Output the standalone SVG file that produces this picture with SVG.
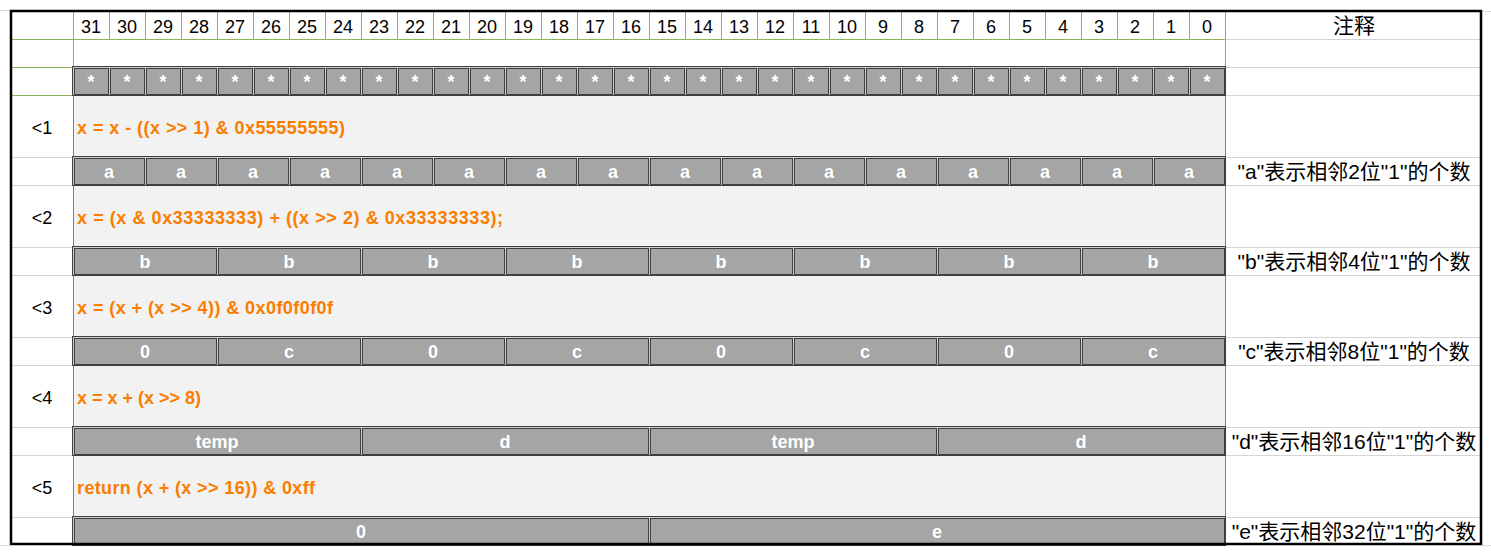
<svg xmlns="http://www.w3.org/2000/svg" width="1491" height="558" viewBox="0 0 1491 558">
<style>
.hd{font-family:"Liberation Sans",Arial,sans-serif;font-size:18px;fill:#000;text-anchor:middle}
.lb{font-family:"Liberation Sans",Arial,sans-serif;font-size:18px;fill:#000;text-anchor:middle}
.fx{font-family:"Liberation Sans",Arial,sans-serif;font-size:18px;font-weight:bold;fill:#FA7D00}
.cl{font-family:"Liberation Sans",Arial,sans-serif;font-size:18px;font-weight:bold;fill:#FFFFFF;text-anchor:middle}
.nt{font-family:"Liberation Sans","Noto Sans CJK SC",sans-serif;font-size:21px;fill:#000;text-anchor:middle}
.cn{font-family:"Noto Sans CJK SC",sans-serif;font-size:21px;fill:#000;text-anchor:middle}
.gv{stroke:#8DB45C;stroke-width:1}
.gg{stroke:#D4D4D4;stroke-width:1}
.calc{fill:#F2F2F2}
.calcb{stroke:#7F7F7F;stroke-width:1}
.rowo{fill:#CFCFCF;stroke:#3F3F3F;stroke-width:1}
.cell{fill:#A5A5A5;stroke:#3F3F3F;stroke-width:1}
</style>
<rect x="0" y="0" width="1491" height="558" fill="#FFFFFF"/>
<g id="outside-grid" stroke="#DADADA" stroke-width="1">
<line x1="0" y1="10.5" x2="10" y2="10.5"/>
<line x1="1482" y1="11.5" x2="1491" y2="11.5"/>
<line x1="0" y1="545.5" x2="10" y2="545.5"/>
<line x1="1482" y1="545.5" x2="1491" y2="545.5"/>
</g>
<g id="calc-rows">
<rect class="calc" x="73" y="96" width="1152" height="61"/>
<rect class="calc" x="73" y="186" width="1152" height="61"/>
<rect class="calc" x="73" y="276" width="1152" height="61"/>
<rect class="calc" x="73" y="366" width="1152" height="61"/>
<rect class="calc" x="73" y="456" width="1152" height="61"/>
<g class="calcb">
<line x1="73.5" y1="95" x2="73.5" y2="157"/><line x1="1225.5" y1="95" x2="1225.5" y2="157"/>
<line x1="73.5" y1="185" x2="73.5" y2="247"/><line x1="1225.5" y1="185" x2="1225.5" y2="247"/>
<line x1="73.5" y1="275" x2="73.5" y2="337"/><line x1="1225.5" y1="275" x2="1225.5" y2="337"/>
<line x1="73.5" y1="365" x2="73.5" y2="427"/><line x1="1225.5" y1="365" x2="1225.5" y2="427"/>
<line x1="73.5" y1="455" x2="73.5" y2="517"/><line x1="1225.5" y1="455" x2="1225.5" y2="517"/>
</g>
</g>
<g id="gridlines">
<g class="gg">
<line x1="1226" y1="39.5" x2="1480" y2="39.5"/>
<line x1="1226" y1="67.5" x2="1480" y2="67.5"/>
<line x1="1226" y1="95.5" x2="1480" y2="95.5"/>
<line x1="12" y1="157.5" x2="72" y2="157.5"/><line x1="1226" y1="157.5" x2="1480" y2="157.5"/>
<line x1="12" y1="185.5" x2="72" y2="185.5"/><line x1="1226" y1="185.5" x2="1480" y2="185.5"/>
<line x1="12" y1="247.5" x2="72" y2="247.5"/><line x1="1226" y1="247.5" x2="1480" y2="247.5"/>
<line x1="12" y1="275.5" x2="72" y2="275.5"/><line x1="1226" y1="275.5" x2="1480" y2="275.5"/>
<line x1="12" y1="337.5" x2="72" y2="337.5"/><line x1="1226" y1="337.5" x2="1480" y2="337.5"/>
<line x1="12" y1="365.5" x2="72" y2="365.5"/><line x1="1226" y1="365.5" x2="1480" y2="365.5"/>
<line x1="12" y1="427.5" x2="72" y2="427.5"/><line x1="1226" y1="427.5" x2="1480" y2="427.5"/>
<line x1="12" y1="455.5" x2="72" y2="455.5"/><line x1="1226" y1="455.5" x2="1480" y2="455.5"/>
<line x1="12" y1="517.5" x2="72" y2="517.5"/><line x1="1226" y1="517.5" x2="1480" y2="517.5"/>
</g>
<g class="gv">
<line x1="12" y1="39.5" x2="1225" y2="39.5"/>
<line x1="12" y1="67.5" x2="73" y2="67.5"/>
<line x1="12" y1="95.5" x2="73" y2="95.5"/>
<line x1="73.5" y1="12" x2="73.5" y2="96"/>
<line x1="1225.5" y1="12" x2="1225.5" y2="96"/>
<line x1="109.5" y1="12" x2="109.5" y2="39"/><line x1="145.5" y1="12" x2="145.5" y2="39"/>
<line x1="181.5" y1="12" x2="181.5" y2="39"/><line x1="217.5" y1="12" x2="217.5" y2="39"/>
<line x1="253.5" y1="12" x2="253.5" y2="39"/><line x1="289.5" y1="12" x2="289.5" y2="39"/>
<line x1="325.5" y1="12" x2="325.5" y2="39"/><line x1="361.5" y1="12" x2="361.5" y2="39"/>
<line x1="397.5" y1="12" x2="397.5" y2="39"/><line x1="433.5" y1="12" x2="433.5" y2="39"/>
<line x1="469.5" y1="12" x2="469.5" y2="39"/><line x1="505.5" y1="12" x2="505.5" y2="39"/>
<line x1="541.5" y1="12" x2="541.5" y2="39"/><line x1="577.5" y1="12" x2="577.5" y2="39"/>
<line x1="613.5" y1="12" x2="613.5" y2="39"/><line x1="649.5" y1="12" x2="649.5" y2="39"/>
<line x1="685.5" y1="12" x2="685.5" y2="39"/><line x1="721.5" y1="12" x2="721.5" y2="39"/>
<line x1="757.5" y1="12" x2="757.5" y2="39"/><line x1="793.5" y1="12" x2="793.5" y2="39"/>
<line x1="829.5" y1="12" x2="829.5" y2="39"/><line x1="865.5" y1="12" x2="865.5" y2="39"/>
<line x1="901.5" y1="12" x2="901.5" y2="39"/><line x1="937.5" y1="12" x2="937.5" y2="39"/>
<line x1="973.5" y1="12" x2="973.5" y2="39"/><line x1="1009.5" y1="12" x2="1009.5" y2="39"/>
<line x1="1045.5" y1="12" x2="1045.5" y2="39"/><line x1="1081.5" y1="12" x2="1081.5" y2="39"/>
<line x1="1117.5" y1="12" x2="1117.5" y2="39"/><line x1="1153.5" y1="12" x2="1153.5" y2="39"/>
<line x1="1189.5" y1="12" x2="1189.5" y2="39"/>
</g>
</g>
<g id="header">
<text class="hd" x="91" y="33">31</text><text class="hd" x="127" y="33">30</text>
<text class="hd" x="163" y="33">29</text><text class="hd" x="199" y="33">28</text>
<text class="hd" x="235" y="33">27</text><text class="hd" x="271" y="33">26</text>
<text class="hd" x="307" y="33">25</text><text class="hd" x="343" y="33">24</text>
<text class="hd" x="379" y="33">23</text><text class="hd" x="415" y="33">22</text>
<text class="hd" x="451" y="33">21</text><text class="hd" x="487" y="33">20</text>
<text class="hd" x="523" y="33">19</text><text class="hd" x="559" y="33">18</text>
<text class="hd" x="595" y="33">17</text><text class="hd" x="631" y="33">16</text>
<text class="hd" x="667" y="33">15</text><text class="hd" x="703" y="33">14</text>
<text class="hd" x="739" y="33">13</text><text class="hd" x="775" y="33">12</text>
<text class="hd" x="811" y="33">11</text><text class="hd" x="847" y="33">10</text>
<text class="hd" x="883" y="33">9</text><text class="hd" x="919" y="33">8</text>
<text class="hd" x="955" y="33">7</text><text class="hd" x="991" y="33">6</text>
<text class="hd" x="1027" y="33">5</text><text class="hd" x="1063" y="33">4</text>
<text class="hd" x="1099" y="33">3</text><text class="hd" x="1135" y="33">2</text>
<text class="hd" x="1171" y="33">1</text><text class="hd" x="1207" y="33">0</text>
<text class="cn" x="1354" y="33">注释</text>
</g>
<g id="row-stars">
<rect class="rowo" x="72.5" y="66.5" width="1153" height="29"/>
<rect class="cell" x="74.5" y="68.5" width="34" height="26"/><rect class="cell" x="110.5" y="68.5" width="34" height="26"/>
<rect class="cell" x="146.5" y="68.5" width="34" height="26"/><rect class="cell" x="182.5" y="68.5" width="34" height="26"/>
<rect class="cell" x="218.5" y="68.5" width="34" height="26"/><rect class="cell" x="254.5" y="68.5" width="34" height="26"/>
<rect class="cell" x="290.5" y="68.5" width="34" height="26"/><rect class="cell" x="326.5" y="68.5" width="34" height="26"/>
<rect class="cell" x="362.5" y="68.5" width="34" height="26"/><rect class="cell" x="398.5" y="68.5" width="34" height="26"/>
<rect class="cell" x="434.5" y="68.5" width="34" height="26"/><rect class="cell" x="470.5" y="68.5" width="34" height="26"/>
<rect class="cell" x="506.5" y="68.5" width="34" height="26"/><rect class="cell" x="542.5" y="68.5" width="34" height="26"/>
<rect class="cell" x="578.5" y="68.5" width="34" height="26"/><rect class="cell" x="614.5" y="68.5" width="34" height="26"/>
<rect class="cell" x="650.5" y="68.5" width="34" height="26"/><rect class="cell" x="686.5" y="68.5" width="34" height="26"/>
<rect class="cell" x="722.5" y="68.5" width="34" height="26"/><rect class="cell" x="758.5" y="68.5" width="34" height="26"/>
<rect class="cell" x="794.5" y="68.5" width="34" height="26"/><rect class="cell" x="830.5" y="68.5" width="34" height="26"/>
<rect class="cell" x="866.5" y="68.5" width="34" height="26"/><rect class="cell" x="902.5" y="68.5" width="34" height="26"/>
<rect class="cell" x="938.5" y="68.5" width="34" height="26"/><rect class="cell" x="974.5" y="68.5" width="34" height="26"/>
<rect class="cell" x="1010.5" y="68.5" width="34" height="26"/><rect class="cell" x="1046.5" y="68.5" width="34" height="26"/>
<rect class="cell" x="1082.5" y="68.5" width="34" height="26"/><rect class="cell" x="1118.5" y="68.5" width="34" height="26"/>
<rect class="cell" x="1154.5" y="68.5" width="34" height="26"/><rect class="cell" x="1190.5" y="68.5" width="34" height="26"/>
<text class="cl" x="91" y="88">*</text><text class="cl" x="127" y="88">*</text>
<text class="cl" x="163" y="88">*</text><text class="cl" x="199" y="88">*</text>
<text class="cl" x="235" y="88">*</text><text class="cl" x="271" y="88">*</text>
<text class="cl" x="307" y="88">*</text><text class="cl" x="343" y="88">*</text>
<text class="cl" x="379" y="88">*</text><text class="cl" x="415" y="88">*</text>
<text class="cl" x="451" y="88">*</text><text class="cl" x="487" y="88">*</text>
<text class="cl" x="523" y="88">*</text><text class="cl" x="559" y="88">*</text>
<text class="cl" x="595" y="88">*</text><text class="cl" x="631" y="88">*</text>
<text class="cl" x="667" y="88">*</text><text class="cl" x="703" y="88">*</text>
<text class="cl" x="739" y="88">*</text><text class="cl" x="775" y="88">*</text>
<text class="cl" x="811" y="88">*</text><text class="cl" x="847" y="88">*</text>
<text class="cl" x="883" y="88">*</text><text class="cl" x="919" y="88">*</text>
<text class="cl" x="955" y="88">*</text><text class="cl" x="991" y="88">*</text>
<text class="cl" x="1027" y="88">*</text><text class="cl" x="1063" y="88">*</text>
<text class="cl" x="1099" y="88">*</text><text class="cl" x="1135" y="88">*</text>
<text class="cl" x="1171" y="88">*</text><text class="cl" x="1207" y="88">*</text>
</g>
<g id="step1">
<text class="lb" x="42" y="134">&lt;1</text>
<text class="fx" x="77" y="134" textLength="268">x = x - ((x &gt;&gt; 1) &amp; 0x55555555)</text>
</g>
<g id="row-a">
<rect class="rowo" x="72.5" y="156.5" width="1153" height="29"/>
<rect class="cell" x="74.5" y="158.5" width="70" height="26"/><rect class="cell" x="146.5" y="158.5" width="70" height="26"/>
<rect class="cell" x="218.5" y="158.5" width="70" height="26"/><rect class="cell" x="290.5" y="158.5" width="70" height="26"/>
<rect class="cell" x="362.5" y="158.5" width="70" height="26"/><rect class="cell" x="434.5" y="158.5" width="70" height="26"/>
<rect class="cell" x="506.5" y="158.5" width="70" height="26"/><rect class="cell" x="578.5" y="158.5" width="70" height="26"/>
<rect class="cell" x="650.5" y="158.5" width="70" height="26"/><rect class="cell" x="722.5" y="158.5" width="70" height="26"/>
<rect class="cell" x="794.5" y="158.5" width="70" height="26"/><rect class="cell" x="866.5" y="158.5" width="70" height="26"/>
<rect class="cell" x="938.5" y="158.5" width="70" height="26"/><rect class="cell" x="1010.5" y="158.5" width="70" height="26"/>
<rect class="cell" x="1082.5" y="158.5" width="70" height="26"/><rect class="cell" x="1154.5" y="158.5" width="70" height="26"/>
<text class="cl" x="109" y="178">a</text><text class="cl" x="181" y="178">a</text>
<text class="cl" x="253" y="178">a</text><text class="cl" x="325" y="178">a</text>
<text class="cl" x="397" y="178">a</text><text class="cl" x="469" y="178">a</text>
<text class="cl" x="541" y="178">a</text><text class="cl" x="613" y="178">a</text>
<text class="cl" x="685" y="178">a</text><text class="cl" x="757" y="178">a</text>
<text class="cl" x="829" y="178">a</text><text class="cl" x="901" y="178">a</text>
<text class="cl" x="973" y="178">a</text><text class="cl" x="1045" y="178">a</text>
<text class="cl" x="1117" y="178">a</text><text class="cl" x="1189" y="178">a</text>
<text class="nt" x="1354" y="178.5">"a"表示相邻2位"1"的个数</text>
</g>
<g id="step2">
<text class="lb" x="42" y="224">&lt;2</text>
<text class="fx" x="77" y="224" textLength="426">x = (x &amp; 0x33333333) + ((x &gt;&gt; 2) &amp; 0x33333333);</text>
</g>
<g id="row-b">
<rect class="rowo" x="72.5" y="246.5" width="1153" height="29"/>
<rect class="cell" x="74.5" y="248.5" width="142" height="26"/><rect class="cell" x="218.5" y="248.5" width="142" height="26"/>
<rect class="cell" x="362.5" y="248.5" width="142" height="26"/><rect class="cell" x="506.5" y="248.5" width="142" height="26"/>
<rect class="cell" x="650.5" y="248.5" width="142" height="26"/><rect class="cell" x="794.5" y="248.5" width="142" height="26"/>
<rect class="cell" x="938.5" y="248.5" width="142" height="26"/><rect class="cell" x="1082.5" y="248.5" width="142" height="26"/>
<text class="cl" x="145" y="268">b</text><text class="cl" x="289" y="268">b</text>
<text class="cl" x="433" y="268">b</text><text class="cl" x="577" y="268">b</text>
<text class="cl" x="721" y="268">b</text><text class="cl" x="865" y="268">b</text>
<text class="cl" x="1009" y="268">b</text><text class="cl" x="1153" y="268">b</text>
<text class="nt" x="1354" y="268.5">"b"表示相邻4位"1"的个数</text>
</g>
<g id="step3">
<text class="lb" x="42" y="314">&lt;3</text>
<text class="fx" x="77" y="314" textLength="256">x = (x + (x &gt;&gt; 4)) &amp; 0x0f0f0f0f</text>
</g>
<g id="row-c">
<rect class="rowo" x="72.5" y="336.5" width="1153" height="29"/>
<rect class="cell" x="74.5" y="338.5" width="142" height="26"/><rect class="cell" x="218.5" y="338.5" width="142" height="26"/>
<rect class="cell" x="362.5" y="338.5" width="142" height="26"/><rect class="cell" x="506.5" y="338.5" width="142" height="26"/>
<rect class="cell" x="650.5" y="338.5" width="142" height="26"/><rect class="cell" x="794.5" y="338.5" width="142" height="26"/>
<rect class="cell" x="938.5" y="338.5" width="142" height="26"/><rect class="cell" x="1082.5" y="338.5" width="142" height="26"/>
<text class="cl" x="145" y="358">0</text><text class="cl" x="289" y="358">c</text>
<text class="cl" x="433" y="358">0</text><text class="cl" x="577" y="358">c</text>
<text class="cl" x="721" y="358">0</text><text class="cl" x="865" y="358">c</text>
<text class="cl" x="1009" y="358">0</text><text class="cl" x="1153" y="358">c</text>
<text class="nt" x="1354" y="358.5">"c"表示相邻8位"1"的个数</text>
</g>
<g id="step4">
<text class="lb" x="42" y="404">&lt;4</text>
<text class="fx" x="77" y="404" textLength="124">x = x + (x &gt;&gt; 8)</text>
</g>
<g id="row-d">
<rect class="rowo" x="72.5" y="426.5" width="1153" height="29"/>
<rect class="cell" x="74.5" y="428.5" width="286" height="26"/><rect class="cell" x="362.5" y="428.5" width="286" height="26"/>
<rect class="cell" x="650.5" y="428.5" width="286" height="26"/><rect class="cell" x="938.5" y="428.5" width="286" height="26"/>
<text class="cl" x="217" y="448">temp</text><text class="cl" x="505" y="448">d</text>
<text class="cl" x="793" y="448">temp</text><text class="cl" x="1081" y="448">d</text>
<text class="nt" x="1354" y="448.5">"d"表示相邻16位"1"的个数</text>
</g>
<g id="step5">
<text class="lb" x="42" y="494">&lt;5</text>
<text class="fx" x="77" y="494" textLength="238">return (x + (x &gt;&gt; 16)) &amp; 0xff</text>
</g>
<g id="row-e">
<rect class="rowo" x="72.5" y="516.5" width="1153" height="29"/>
<rect class="cell" x="74.5" y="518.5" width="574" height="26"/><rect class="cell" x="650.5" y="518.5" width="574" height="26"/>
<text class="cl" x="361" y="538">0</text><text class="cl" x="937" y="538">e</text>
<text class="nt" x="1354" y="538.5">"e"表示相邻32位"1"的个数</text>
</g>
<rect id="frame" x="11" y="11" width="1470" height="533" fill="none" stroke="#000" stroke-width="2.5"/>
</svg>
